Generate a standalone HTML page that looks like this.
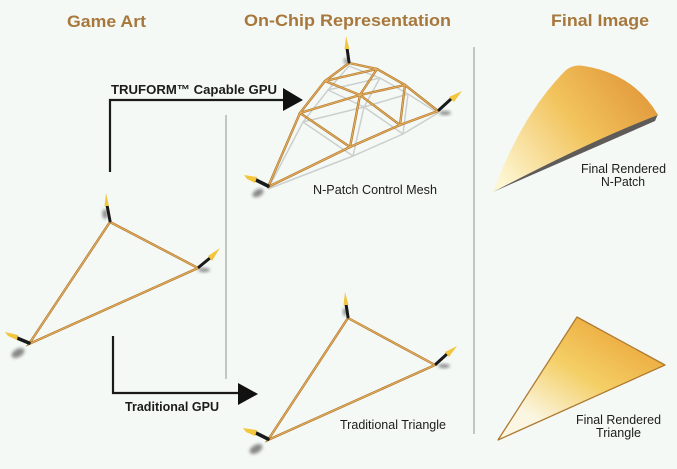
<!DOCTYPE html>
<html>
<head>
<meta charset="utf-8">
<style>
html,body{margin:0;padding:0;background:#f4f9f6;}
svg{display:block;}
text{font-family:"Liberation Sans",Arial,sans-serif;}
.t{font-weight:bold;font-size:16.5px;fill:#a8773c;}
.b{font-weight:bold;font-size:13px;fill:#1c1c1c;}
.r{font-size:13px;fill:#1c1c1c;}
.rodo{stroke:#b17a30;stroke-width:2.4;fill:none;stroke-linecap:round;}
.rodi{stroke:#e8b060;stroke-width:1;fill:none;stroke-linecap:round;}
.sh{stroke:#c2c5c4;stroke-width:1.5;fill:none;opacity:0.8;}
</style>
</head>
<body>
<svg width="677" height="469" viewBox="0 0 677 469" xmlns="http://www.w3.org/2000/svg">
<defs>
  <filter id="bl" x="-50%" y="-50%" width="200%" height="200%"><feGaussianBlur stdDeviation="1.6"/></filter>
  <linearGradient id="gp" x1="640" y1="80" x2="505" y2="185" gradientUnits="userSpaceOnUse">
    <stop offset="0" stop-color="#e29a3c"/>
    <stop offset="0.45" stop-color="#f2c35c"/>
    <stop offset="1" stop-color="#fdf6d2"/>
  </linearGradient>
  <linearGradient id="gt" x1="610" y1="320" x2="545" y2="425" gradientUnits="userSpaceOnUse">
    <stop offset="0" stop-color="#ecaa3e"/>
    <stop offset="0.5" stop-color="#f4cf66"/>
    <stop offset="1" stop-color="#fbf6e2"/>
  </linearGradient>
</defs>
<rect width="677" height="469" fill="#f4f9f6"/>

<!-- titles -->
<text class="t" x="67" y="27" textLength="79" lengthAdjust="spacingAndGlyphs">Game Art</text>
<text class="t" x="244" y="26" textLength="207" lengthAdjust="spacingAndGlyphs">On-Chip Representation</text>
<text class="t" x="551" y="26" textLength="98" lengthAdjust="spacingAndGlyphs">Final Image</text>

<!-- dividers -->
<line x1="226" y1="115" x2="226" y2="379" stroke="#b3b5b4" stroke-width="1.5"/>
<line x1="474" y1="47" x2="474" y2="434" stroke="#b3b5b4" stroke-width="1.5"/>

<!-- arrows -->
<polyline points="110,172 110,100 285,100" fill="none" stroke="#1a1a1a" stroke-width="2.2"/>
<polygon points="283,88 303,100 283,111" fill="#111"/>
<text class="b" x="111" y="94" textLength="166" lengthAdjust="spacingAndGlyphs">TRUFORM™ Capable GPU</text>

<polyline points="113,336 113,393 240,393" fill="none" stroke="#1a1a1a" stroke-width="2.2"/>
<polygon points="238,383 258,394 238,405" fill="#111"/>
<text class="b" x="125" y="411" textLength="94" lengthAdjust="spacingAndGlyphs">Traditional GPU</text>

<!-- ===== Left game-art triangle ===== -->
<g>
  <ellipse cx="105" cy="214" rx="2.5" ry="5" fill="#888" filter="url(#bl)"/>
  <ellipse cx="204" cy="270" rx="6" ry="2" fill="#888" filter="url(#bl)"/>
  <ellipse cx="18" cy="353" rx="7" ry="4" fill="#888" filter="url(#bl)" transform="rotate(-30 18 353)"/>
</g>
<polygon points="110,222 198,268 29,344" class="rodo"/>
<polygon points="110,222 198,268 29,344" class="rodi"/>
<g stroke-linecap="round">
  <line x1="110" y1="221" x2="107" y2="205" stroke="#1a1a1a" stroke-width="3"/>
  <path d="M104.5,206 L106,193 L109,206 Z" fill="#f3c640"/>
  <line x1="199" y1="267" x2="210" y2="258" stroke="#1a1a1a" stroke-width="3"/>
  <path d="M208,256 L220,248 L212,261 Z" fill="#f3c640"/>
  <line x1="29" y1="343" x2="17" y2="338" stroke="#1a1a1a" stroke-width="3.5"/>
  <path d="M18,335 L5,332 L8,336 L17,340 Z" fill="#f3c640"/>
</g>

<!-- ===== N-patch control mesh ===== -->
<g class="sh">
  <polyline points="268,189 303,122 328,90 349,66 380,78 408,94 438,113"/>
  <polyline points="268,189 353,156 403,134 438,113"/>
  <polyline points="303,122 364,107 408,94"/>
  <polyline points="328,90 380,78"/>
  <polyline points="328,90 364,107 403,134"/>
  <polyline points="380,78 364,107 353,156"/>
  <polyline points="303,122 353,156"/>
  <polyline points="408,94 403,134"/>
</g>
<g>
  <ellipse cx="346" cy="61" rx="2" ry="3" fill="#888" filter="url(#bl)"/>
  <ellipse cx="445" cy="113" rx="6" ry="2" fill="#888" filter="url(#bl)"/>
  <ellipse cx="258" cy="193" rx="6" ry="3.5" fill="#888" filter="url(#bl)" transform="rotate(-30 258 193)"/>
</g>
<g class="rodo">
  <polyline points="268,187 300,113 325,81 349,63 377,69 405,85 438,111"/>
  <polyline points="268,187 350,147 400,125 438,111"/>
  <polyline points="300,113 360,95 405,85"/>
  <polyline points="325,81 377,69"/>
  <polyline points="325,81 360,95 400,125"/>
  <polyline points="377,69 360,95 350,147"/>
  <polyline points="300,113 350,147"/>
  <polyline points="405,85 400,125"/>
</g>
<g class="rodi">
  <polyline points="268,187 300,113 325,81 349,63 377,69 405,85 438,111"/>
  <polyline points="268,187 350,147 400,125 438,111"/>
  <polyline points="300,113 360,95 405,85"/>
  <polyline points="325,81 377,69"/>
  <polyline points="325,81 360,95 400,125"/>
  <polyline points="377,69 360,95 350,147"/>
  <polyline points="300,113 350,147"/>
  <polyline points="405,85 400,125"/>
</g>
<g stroke-linecap="round">
  <line x1="349" y1="62" x2="347" y2="48" stroke="#1a1a1a" stroke-width="3"/>
  <path d="M344.5,49 L346,36 L349.5,49 Z" fill="#f3c640"/>
  <line x1="439" y1="110" x2="451" y2="99" stroke="#1a1a1a" stroke-width="3"/>
  <path d="M449,97 L462,91 L454,102 Z" fill="#f3c640"/>
  <line x1="268" y1="186" x2="256" y2="180" stroke="#1a1a1a" stroke-width="3.5"/>
  <path d="M257,177 L244,175 L247,179 L255,183 Z" fill="#f3c640"/>
</g>
<text class="r" x="313" y="194" textLength="124" lengthAdjust="spacingAndGlyphs">N-Patch Control Mesh</text>

<!-- ===== Traditional triangle ===== -->
<g>
  <ellipse cx="345" cy="312" rx="2" ry="4" fill="#888" filter="url(#bl)"/>
  <ellipse cx="444" cy="366" rx="6" ry="2" fill="#888" filter="url(#bl)"/>
  <ellipse cx="256" cy="449" rx="7" ry="4" fill="#888" filter="url(#bl)" transform="rotate(-30 256 449)"/>
</g>
<polygon points="348,318 435,365 268,440" class="rodo"/>
<polygon points="348,318 435,365 268,440" class="rodi"/>
<g stroke-linecap="round">
  <line x1="348" y1="317" x2="346" y2="304" stroke="#1a1a1a" stroke-width="3"/>
  <path d="M343.5,305 L345,292 L348.5,305 Z" fill="#f3c640"/>
  <line x1="436" y1="364" x2="447" y2="354" stroke="#1a1a1a" stroke-width="3"/>
  <path d="M445,352 L457,346 L449,357 Z" fill="#f3c640"/>
  <line x1="268" y1="439" x2="256" y2="433" stroke="#1a1a1a" stroke-width="3.5"/>
  <path d="M257,430 L243,428 L246,432 L255,436 Z" fill="#f3c640"/>
</g>
<text class="r" x="340" y="429" textLength="106" lengthAdjust="spacingAndGlyphs">Traditional Triangle</text>

<!-- ===== Final N-patch ===== -->
<path d="M658,114 L655,121 L493,192 Q590,141 658,114 Z" fill="#5f5b58"/>
<path d="M493,192 Q522,114 566,70 Q574,64 584,66 Q634,74 658,115 Q590,141 493,192 Z" fill="url(#gp)"/>
<text class="r" x="581" y="173" textLength="85" lengthAdjust="spacingAndGlyphs">Final Rendered</text>
<text class="r" x="601" y="186" textLength="44" lengthAdjust="spacingAndGlyphs">N-Patch</text>

<!-- ===== Final triangle ===== -->
<polygon points="577,317 665,365 498,440" fill="url(#gt)" stroke="#b07a32" stroke-width="1.3" stroke-linejoin="round"/>
<text class="r" x="576" y="424" textLength="85" lengthAdjust="spacingAndGlyphs">Final Rendered</text>
<text class="r" x="596" y="437" textLength="45" lengthAdjust="spacingAndGlyphs">Triangle</text>
</svg>
</body>
</html>
